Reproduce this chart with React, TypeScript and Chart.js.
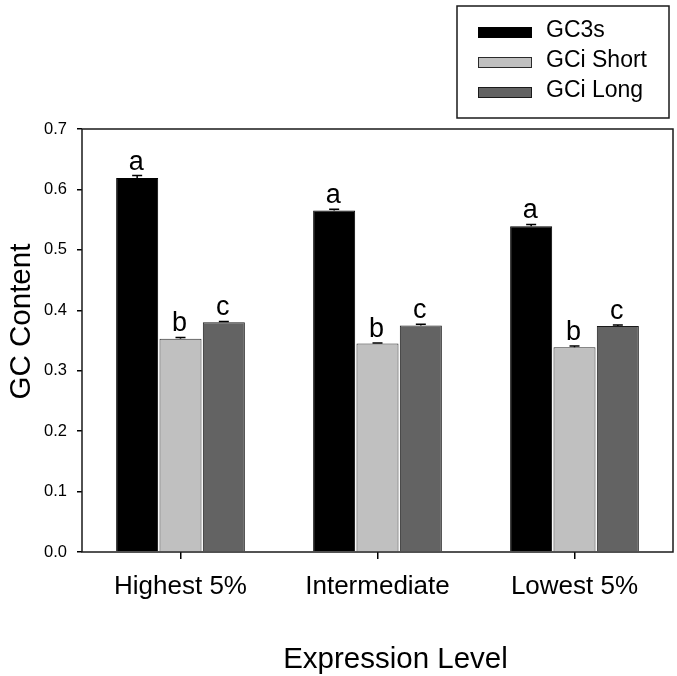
import React, { useEffect, useRef } from "react";
import { Chart, registerables } from "chart.js";

Chart.register(...registerables);

const categories = ["Highest 5%", "Intermediate", "Lowest 5%"];
const seriesNames = ["GC3s", "GCi Short", "GCi Long"];
const gc3s = [0.619, 0.565, 0.539];
const gciShort = [0.353, 0.345, 0.339];
const gciLong = [0.380, 0.375, 0.374];
const gc3sErr = [0.004, 0.002, 0.003];
const gciShortErr = [0.002, 0.001, 0.002];
const gciLongErr = [0.0015, 0.002, 0.0015];
const gc3sLetters = ["a", "a", "a"];
const gciShortLetters = ["b", "b", "b"];
const gciLongLetters = ["c", "c", "c"];
const yTicks = [0, 0.1, 0.2, 0.3, 0.4, 0.5, 0.6, 0.7];
const xTitle = "Expression Level";
const yTitle = "GC Content";

const FONT = "'Liberation Sans', Arial, sans-serif";

export default function App() {
  const ref = useRef<HTMLCanvasElement | null>(null);

  useEffect(() => {
    if (!ref.current) return;
    const errs = [gc3sErr, gciShortErr, gciLongErr];
    const letters = [gc3sLetters, gciShortLetters, gciLongLetters];

    const extras = {
      id: "extras",
      afterDatasetsDraw(chart: any) {
        const ctx = chart.ctx;
        const yScale = chart.scales.y;
        ctx.save();
        chart.data.datasets.forEach((ds: any, di: number) => {
          const meta = chart.getDatasetMeta(di);
          meta.data.forEach((el: any, i: number) => {
            const v = ds.data[i];
            const top = yScale.getPixelForValue(v + errs[di][i]);
            ctx.strokeStyle = "#000";
            ctx.lineWidth = 1.5;
            ctx.beginPath();
            ctx.moveTo(el.x, el.y);
            ctx.lineTo(el.x, top);
            ctx.moveTo(el.x - 5, top);
            ctx.lineTo(el.x + 5, top);
            ctx.stroke();
            ctx.fillStyle = "#000";
            ctx.font = `27px ${FONT}`;
            ctx.textAlign = "center";
            ctx.textBaseline = "alphabetic";
            ctx.fillText(letters[di][i], el.x - 1, top - 6);
          });
        });
        ctx.restore();
      },
      afterDraw(chart: any) {
        const ctx = chart.ctx;
        const a = chart.chartArea;
        ctx.save();
        ctx.strokeStyle = "#1a1a1a";
        ctx.lineWidth = 1.5;
        ctx.strokeRect(a.left, a.top, a.right - a.left, a.bottom - a.top);
        // axis titles
        ctx.fillStyle = "#000";
        ctx.font = `29.5px ${FONT}`;
        ctx.textAlign = "center";
        ctx.textBaseline = "middle";
        ctx.fillText(xTitle, (a.left + a.right) / 2 + 18, 660);
        ctx.save();
        ctx.translate(22, (a.top + a.bottom) / 2 - 19);
        ctx.rotate(-Math.PI / 2);
        ctx.fillText(yTitle, 0, 0);
        ctx.restore();
        // legend
        ctx.strokeStyle = "#1a1a1a";
        ctx.lineWidth = 1.5;
        ctx.strokeRect(457, 6, 212, 112);
        chart.data.datasets.forEach((ds: any, di: number) => {
          const cy = 32 + di * 30;
          ctx.fillStyle = ds.backgroundColor;
          ctx.fillRect(478, cy - 5, 54, 11);
          ctx.strokeStyle = ds.borderColor;
          ctx.lineWidth = 1;
          ctx.strokeRect(478.5, cy - 4.5, 53, 10);
          ctx.fillStyle = "#000";
          ctx.font = `23px ${FONT}`;
          ctx.textAlign = "left";
          ctx.textBaseline = "middle";
          ctx.fillText(ds.label, 546, cy - 1);
        });
        ctx.restore();
      },
    };

    const chart = new Chart(ref.current, {
      type: "bar",
      data: {
        labels: categories,
        datasets: [
          { label: seriesNames[0], data: gc3s, backgroundColor: "#000000", borderColor: "#000000", borderWidth: 1 },
          { label: seriesNames[1], data: gciShort, backgroundColor: "#c0c0c0", borderColor: "#2a2a2a", borderWidth: 1 },
          { label: seriesNames[2], data: gciLong, backgroundColor: "#636363", borderColor: "#1a1a1a", borderWidth: 1 },
        ],
      },
      options: {
        responsive: false,
        animation: false,
        devicePixelRatio: 1,
        layout: { padding: { top: 129, right: 4, left: 0, bottom: 0 } },
        datasets: { bar: { categoryPercentage: 0.66, barPercentage: 0.97 } } as any,
        plugins: {
          legend: { display: false },
          tooltip: { enabled: false },
        },
        scales: {
          x: {
            grid: { display: true, drawOnChartArea: false, offset: false, tickLength: 7, color: "#000", lineWidth: 1.5 },
            border: { display: false },
            ticks: { color: "#000", font: { family: FONT, size: 26 }, padding: 12, maxRotation: 0 },
            afterFit(scale: any) { scale.height = 124; },
          },
          y: {
            min: 0,
            max: 0.7,
            afterBuildTicks(scale: any) { scale.ticks = yTicks.map((v) => ({ value: v })); },
            grid: { display: true, drawOnChartArea: false, tickLength: 5, color: "#000", lineWidth: 1.5 },
            border: { display: false },
            ticks: { color: "#000", font: { family: FONT, size: 16.5 }, padding: 10, callback: (v: any) => Number(v).toFixed(1) },
            afterFit(scale: any) { scale.width = 82; },
          },
        },
      },
      plugins: [extras],
    });
    return () => chart.destroy();
  }, []);

  return (
    <div style={{ position: "absolute", left: 0, top: 0, width: 677, height: 676, background: "#fff" }}>
      <canvas ref={ref} width={677} height={676} style={{ display: "block" }} />
    </div>
  );
}
